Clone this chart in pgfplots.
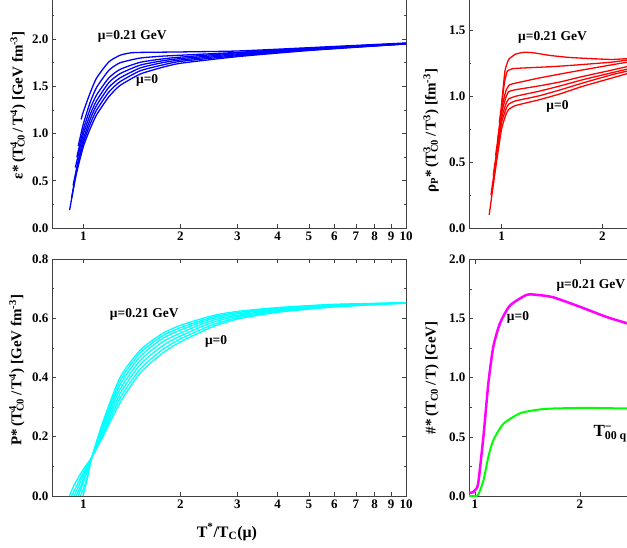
\documentclass[border=0pt]{standalone}
\usepackage{fontspec}
\setmainfont{Liberation Serif}
\usepackage{pgfplots}
\pgfplotsset{compat=1.18}

\definecolor{aqua}{RGB}{0,255,255}
\definecolor{fuchsia}{RGB}{255,0,255}
\definecolor{lime}{RGB}{0,255,0}

% superscript stacked over subscript
\newcommand{\supsub}[2]{\rlap{\textsuperscript{#1}}\textsubscript{#2}}

\pgfplotsset{
  panel/.style={
    scale only axis,
    axis line style={black!75, line width=0.8pt},
    tick style={black!75, line width=0.7pt},
    major tick length=4pt, minor tick length=2.5pt,
    tick align=inside,
    ticklabel style={font=\bfseries\fontsize{13}{13}\selectfont},
    /pgf/number format/assume math mode=true,
    yticklabel style={/pgf/number format/fixed, /pgf/number format/fixed zerofill, /pgf/number format/precision=1},
    ylabel style={font=\bfseries\fontsize{15}{15}\selectfont, anchor=center},
    minor y tick num=1,
  },
  decadeticks/.style={
    xmin=0.8, xmax=10,
    xtick={1,2,3,4,5,6,7,8,9,10},
    xticklabels={1,2,3,4,5,6,7,8,9,10},
  },
}
\tikzset{
  lbl/.style={font=\bfseries\fontsize{13.5}{14}\selectfont},
  bl/.style={blue, line width=1.3pt, smooth, tension=0.35},
  cy/.style={aqua, line width=1.3pt, smooth, tension=0.4},
  rd/.style={red, line width=1.3pt, smooth, tension=0.25},
}

\begin{document}
\begin{tikzpicture}
\useasboundingbox (0pt,0pt) rectangle (627pt,547pt);
\clip (0pt,0pt) rectangle (627pt,547pt);

% ---------- energy density ----------
\begin{axis}[xmode=log, panel, decadeticks, at={(52pt,319pt)}, anchor=south west,
  width=354pt, height=236pt, ymin=0, ymax=2.5, ytick={0,0.5,1,1.5,2,2.5},
  ylabel={ε*\,(T\supsub{4}{C0}\,/\,T\textsuperscript{4}) [GeV fm\textsuperscript{-3}]},
  ylabel style={at={(axis description cs:-0.096,0.52)}}]
\addplot[bl] coordinates {(0.907,0.19) (0.95,0.56) (1.0,0.86) (1.05,1.05) (1.1,1.2) (1.2,1.39) (1.3,1.51) (1.5,1.63) (1.75,1.70) (2,1.745) (3,1.815) (5,1.88) (10,1.95)};
\addplot[bl] coordinates {(0.92,0.32) (0.95,0.58) (1.0,0.90) (1.05,1.10) (1.1,1.25) (1.2,1.44) (1.3,1.55) (1.5,1.665) (1.75,1.725) (2,1.765) (3,1.825) (5,1.885) (10,1.95)};
\addplot[bl] coordinates {(0.93,0.45) (0.96,0.68) (1.0,0.94) (1.05,1.15) (1.1,1.30) (1.2,1.49) (1.3,1.59) (1.5,1.695) (1.75,1.75) (2,1.78) (3,1.835) (5,1.89) (10,1.95)};
\addplot[bl] coordinates {(0.945,0.64) (1.0,0.99) (1.05,1.20) (1.1,1.35) (1.2,1.54) (1.3,1.635) (1.5,1.725) (1.75,1.77) (2,1.795) (3,1.845) (5,1.895) (10,1.955)};
\addplot[bl] coordinates {(0.955,0.75) (1.0,1.04) (1.05,1.26) (1.1,1.41) (1.2,1.59) (1.3,1.68) (1.5,1.755) (1.75,1.79) (2,1.81) (3,1.855) (5,1.90) (10,1.955)};
\addplot[bl] coordinates {(0.965,0.87) (1.0,1.10) (1.05,1.33) (1.1,1.49) (1.2,1.67) (1.3,1.75) (1.5,1.80) (1.75,1.82) (2,1.83) (3,1.86) (5,1.905) (10,1.955)};
\addplot[bl] coordinates {(0.985,1.15) (1.0,1.23) (1.05,1.43) (1.1,1.59) (1.2,1.76) (1.3,1.83) (1.4,1.855) (1.5,1.86) (2,1.865) (3,1.875) (5,1.91) (10,1.96)};
\node[lbl] at (axis cs:1.418,2.03) {μ=0.21 GeV};
\node[lbl] at (axis cs:1.578,1.56) {μ=0};
\end{axis}

% ---------- pressure ----------
\begin{axis}[xmode=log, panel, decadeticks, at={(52pt,51pt)}, anchor=south west,
  width=354pt, height=237pt, ymin=0, ymax=0.8, ytick={0,0.2,0.4,0.6,0.8},
  ylabel={P*\,(T\supsub{4}{C0}\,/\,T\textsuperscript{4}) [GeV fm\textsuperscript{-3}]},
  ylabel style={at={(axis description cs:-0.099,0.53)}},
  xlabel={T\textsuperscript{*}/T\textsubscript{C}(μ)},
  xlabel style={font=\bfseries\fontsize{16}{16}\selectfont, at={(axis description cs:0.494,0)}, anchor=center, yshift=-36pt}]
\addplot[cy] coordinates {(0.905,0) (0.94,0.04) (1.0,0.09) (1.064,0.132) (1.15,0.2) (1.3,0.315) (1.5,0.415) (1.75,0.48) (2,0.52) (2.5,0.57) (3,0.597) (4,0.62) (6,0.638) (10,0.651)};
\addplot[cy] coordinates {(0.92,0) (0.96,0.04) (1.0,0.08) (1.064,0.132) (1.15,0.208) (1.3,0.33) (1.5,0.428) (1.75,0.492) (2,0.53) (2.5,0.577) (3,0.601) (4,0.623) (6,0.64) (10,0.651)};
\addplot[cy] coordinates {(0.935,0) (0.97,0.035) (1.0,0.07) (1.064,0.132) (1.15,0.215) (1.3,0.345) (1.5,0.443) (1.75,0.505) (2,0.54) (2.5,0.585) (3,0.606) (4,0.626) (6,0.642) (10,0.652)};
\addplot[cy] coordinates {(0.95,0) (0.98,0.03) (1.0,0.055) (1.064,0.132) (1.15,0.225) (1.3,0.36) (1.5,0.457) (1.75,0.518) (2,0.55) (2.5,0.592) (3,0.61) (4,0.629) (6,0.643) (10,0.652)};
\addplot[cy] coordinates {(0.965,0) (1.0,0.045) (1.064,0.132) (1.15,0.233) (1.3,0.375) (1.5,0.47) (1.75,0.53) (2,0.56) (2.5,0.598) (3,0.615) (4,0.632) (6,0.645) (10,0.652)};
\addplot[cy] coordinates {(0.98,0) (1.02,0.05) (1.064,0.132) (1.15,0.242) (1.3,0.388) (1.5,0.482) (1.75,0.539) (2,0.568) (2.5,0.603) (3,0.619) (4,0.634) (6,0.646) (10,0.652)};
\addplot[cy] coordinates {(0.998,0) (1.03,0.06) (1.064,0.132) (1.15,0.25) (1.3,0.40) (1.5,0.492) (1.75,0.547) (2,0.576) (2.5,0.608) (3,0.623) (4,0.636) (6,0.647) (10,0.652)};
\node[lbl] at (axis cs:1.545,0.612) {μ=0.21 GeV};
\node[lbl] at (axis cs:2.58,0.521) {μ=0};
\end{axis}

% ---------- parton density ----------
\begin{axis}[xmode=log, panel, decadeticks, at={(469pt,319pt)}, anchor=south west,
  width=368pt, height=237pt, ymin=0, ymax=1.8, ytick={0,0.5,1,1.5},
  ylabel={ρ\textsubscript{P}*\,(T\supsub{3}{C0}\,/\,T\textsuperscript{3}) [fm\textsuperscript{-3}]},
  ylabel style={at={(axis description cs:-0.103,0.41)}}]
\addplot[rd] coordinates {(0.919,0.10) (0.96,0.45) (1.0,0.75) (1.03,0.86) (1.05,0.90) (1.1,0.93) (1.3,0.975) (1.5,1.02) (1.74,1.075) (2.14,1.14) (2.5,1.19)};
\addplot[rd] coordinates {(0.93,0.25) (0.97,0.58) (1.0,0.80) (1.03,0.90) (1.05,0.94) (1.1,0.965) (1.3,1.005) (1.5,1.05) (1.74,1.10) (2.14,1.165) (2.5,1.205)};
\addplot[rd] coordinates {(0.945,0.40) (1.0,0.83) (1.03,0.94) (1.05,0.98) (1.1,1.0) (1.3,1.04) (1.5,1.08) (1.74,1.125) (2.14,1.18) (2.5,1.22)};
\addplot[rd] coordinates {(0.96,0.55) (1.0,0.87) (1.03,0.99) (1.05,1.035) (1.1,1.05) (1.3,1.08) (1.5,1.11) (1.74,1.15) (2.14,1.20) (2.5,1.24)};
\addplot[rd] coordinates {(0.973,0.66) (1.0,0.90) (1.03,1.04) (1.055,1.087) (1.1,1.10) (1.3,1.14) (1.5,1.17) (1.74,1.20) (2.14,1.24) (2.5,1.27)};
\addplot[rd] coordinates {(0.985,0.80) (1.0,0.93) (1.02,1.10) (1.04,1.19) (1.08,1.21) (1.155,1.215) (1.4,1.225) (1.63,1.236) (2.14,1.26) (2.5,1.285)};
\addplot[rd] coordinates {(1.0,0.93) (1.01,1.05) (1.025,1.2) (1.05,1.28) (1.1,1.32) (1.17,1.335) (1.25,1.33) (1.4,1.31) (1.6,1.295) (1.9,1.285) (2.14,1.28) (2.5,1.29)};
\node[lbl] at (axis cs:1.419,1.446) {μ=0.21 GeV};
\node[lbl] at (axis cs:1.469,0.926) {μ=0};
\end{axis}

% ---------- fourth panel ----------
\begin{axis}[panel, at={(469pt,51pt)}, anchor=south west,
  width=321pt, height=236.5pt, xmin=0.943, xmax=4, ymin=0, ymax=2, xtick={1,2,3,4},
  ytick={0,0.5,1,1.5,2},
  ylabel={\#*\,(T\textsubscript{C0}\,/\,T) [GeV]},
  ylabel style={at={(axis description cs:-0.115,0.50)}}]
\addplot[fuchsia, line width=2.5pt, smooth, tension=0.4] coordinates {(0.943,0.03) (0.98,0.03) (1.0,0.05) (1.03,0.105) (1.08,0.5) (1.127,0.95) (1.174,1.26) (1.238,1.46) (1.333,1.61) (1.49,1.70) (1.6,1.70) (1.746,1.68) (2.0,1.60) (2.25,1.515) (2.45,1.46) (2.6,1.42)};
\addplot[lime, line width=2pt, smooth, tension=0.4] coordinates {(0.943,0) (1.0,0.0) (1.03,0.01) (1.08,0.13) (1.127,0.33) (1.174,0.47) (1.27,0.61) (1.43,0.70) (1.6,0.73) (1.746,0.74) (2.06,0.745) (2.45,0.74) (2.6,0.738)};
\node[lbl, anchor=west] at (axis cs:1.743,1.78) {μ=0.21 GeV};
\node[lbl] at (axis cs:1.41,1.51) {μ=0};
\node[font=\bfseries\fontsize{17}{17}\selectfont, anchor=base west] at (axis cs:2.095,0.50) {T\supsub{−}{00 q+g}};
\end{axis}
\end{tikzpicture}
\end{document}
